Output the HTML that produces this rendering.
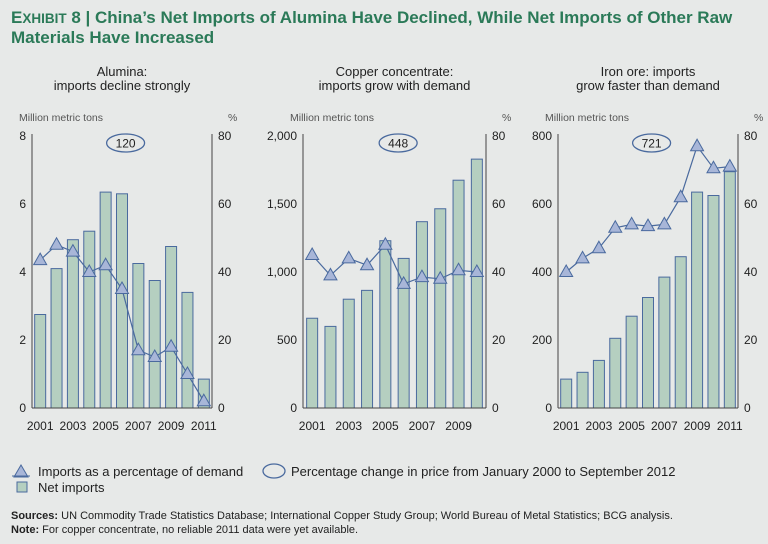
<!DOCTYPE html>
<html><head><meta charset="utf-8">
<style>
html,body{margin:0;padding:0;background:#e7e9e8;}
svg{display:block;font-family:"Liberation Sans",sans-serif;}
</style></head>
<body>
<svg id="chart" width="768" height="544" viewBox="0 0 768 544" xmlns="http://www.w3.org/2000/svg">
<rect width="768" height="544" fill="#e7e9e8"/>
<text x="11" y="23" font-size="17" font-weight="bold" fill="#2b7a58">E<tspan font-size="13.5">XHIBIT</tspan> 8 | China’s Net Imports of Alumina Have Declined, While Net Imports of Other Raw</text>
<text x="11" y="43" font-size="17" font-weight="bold" fill="#2b7a58">Materials Have Increased</text>
<g id="panels"></g>
<g>
<polygon points="21,465 28,477 14,477" fill="#a8b6d8" stroke="#4a6a9e" stroke-width="1"/>
<line x1="12" y1="476" x2="30" y2="476" stroke="#4a6a9e" stroke-width="1"/>
<text x="38" y="476" font-size="13" fill="#222">Imports as a percentage of demand</text>
<ellipse cx="274" cy="471" rx="11" ry="7" fill="none" stroke="#4a6a9e" stroke-width="1.3"/>
<text x="291" y="476" font-size="13" fill="#222">Percentage change in price from January 2000 to September 2012</text>
<rect x="17" y="482" width="10" height="10" fill="#b5cfc0" stroke="#4a6a9e" stroke-width="1"/>
<text x="38" y="492" font-size="13" fill="#222">Net imports</text>
</g>
<text x="11" y="519" font-size="11" fill="#222"><tspan font-weight="bold">Sources:</tspan> UN Commodity Trade Statistics Database; International Copper Study Group; World Bureau of Metal Statistics; BCG analysis.</text>
<text x="11" y="533" font-size="11" fill="#222"><tspan font-weight="bold">Note:</tspan> For copper concentrate, no reliable 2011 data were yet available.</text>
</svg>
<script>
const aluminaYears = [2001,2002,2003,2004,2005,2006,2007,2008,2009,2010,2011];
const aluminaImports = [2.75,4.1,4.95,5.2,6.35,6.3,4.25,3.75,4.75,3.4,0.85];
const aluminaPct = [43.5,48,46,40,42,35,17,15,18,10,2];
const aluminaTicks = [0,2,4,6,8];
const copperYears = [2001,2002,2003,2004,2005,2006,2007,2008,2009,2010];
const copperImports = [660,600,800,865,1230,1100,1370,1465,1675,1830];
const copperPct = [45,39,44,42,48,36.5,38.5,38,40.5,40];
const copperTicks = [0,500,1000,1500,2000];
const copperTickLabels = ["0","500","1,000","1,500","2,000"];
const ironYears = [2001,2002,2003,2004,2005,2006,2007,2008,2009,2010,2011];
const ironImports = [85,105,140,205,270,325,385,445,635,625,695];
const ironPct = [40,44,47,53,54,53.5,54,62,77,70.5,71];
const ironTicks = [0,200,400,600,800];
const pctTicks = [0,20,40,60,80];
const priceChanges = ["120","448","721"];

const NS = "http://www.w3.org/2000/svg";
const root = document.getElementById("panels");
function mk(tag, attrs, parent){
  const e = document.createElementNS(NS, tag);
  for (const k in attrs) e.setAttribute(k, attrs[k]);
  (parent||root).appendChild(e);
  return e;
}
const panels = [
  {key:"alumina", title:["Alumina:","imports decline strongly"], x0:32, x1:212, years:aluminaYears, vals:aluminaImports, pct:aluminaPct, ticks:aluminaTicks, labels:aluminaTicks.map(String), max:8, price:priceChanges[0]},
  {key:"copper", title:["Copper concentrate:","imports grow with demand"], x0:303, x1:486, years:copperYears, vals:copperImports, pct:copperPct, ticks:copperTicks, labels:copperTickLabels, max:2000, price:priceChanges[1]},
  {key:"iron", title:["Iron ore: imports","grow faster than demand"], x0:558, x1:738, years:ironYears, vals:ironImports, pct:ironPct, ticks:ironTicks, labels:ironTicks.map(String), max:800, price:priceChanges[2]}
];
const yTop = 136, yBot = 408;
panels.forEach(p => {
  const g = mk("g", {});
  
  
  const cx = (p.x0 + p.x1) / 2;
  p.title.forEach((t, i) => {
    const tt = mk("text", {x:cx, y:76 + i*14, "font-size":13, fill:"#222", "text-anchor":"middle"}, g);
    tt.textContent = t;
    
    
  });
  const ul = mk("text", {x:p.x0-13, y:121, "font-size":10.5, fill:"#555"}, g);
  ul.textContent = "Million metric tons";
  
  
  const ur = mk("text", {x:p.x1+16, y:121, "font-size":10.5, fill:"#555"}, g);
  ur.textContent = "%";
  
  
  const yL = v => yBot - (v / p.max) * (yBot - yTop);
  const yR = v => yBot - (v / 80) * (yBot - yTop);
  const n = p.years.length;
  const band = (p.x1 - p.x0) / n;
  const xC = i => p.x0 + band * (i + 0.5);
  p.vals.forEach((v, i) => {
    const r = mk("rect", {x:xC(i)-5.5, y:yL(v), width:11, height:yBot-yL(v), fill:"#b5cfc0", stroke:"#4a6a9e", "stroke-width":1}, g);
    
    
  });
  const la = mk("line", {x1:p.x0, y1:yTop-2, x2:p.x0, y2:yBot, stroke:"#444", "stroke-width":1}, g);
  
  
  const ra = mk("line", {x1:p.x1, y1:yTop-2, x2:p.x1, y2:yBot, stroke:"#444", "stroke-width":1}, g);
  
  
  const ba = mk("line", {x1:p.x0, y1:yBot, x2:p.x1, y2:yBot, stroke:"#444", "stroke-width":1}, g);
  
  
  p.ticks.forEach((t, i) => {
    const tl = mk("text", {x:p.x0-6, y:yL(t)+4, "font-size":12, fill:"#222", "text-anchor":"end"}, g);
    tl.textContent = p.labels[i];
    
    
  });
  pctTicks.forEach(t => {
    const tl = mk("text", {x:p.x1+6, y:yR(t)+4, "font-size":12, fill:"#222"}, g);
    tl.textContent = String(t);
    
    
  });
  p.years.forEach((yr, i) => {
    if (i % 2) return;
    const xl = mk("text", {x:xC(i), y:430, "font-size":12, fill:"#222", "text-anchor":"middle"}, g);
    xl.textContent = String(yr);
    
    
  });
  const pts = p.pct.map((v, i) => xC(i).toFixed(1) + "," + yR(v).toFixed(1)).join(" ");
  const pl = mk("polyline", {points:pts, fill:"none", stroke:"#4a6a9e", "stroke-width":1.2}, g);
  
  
  p.pct.forEach((v, i) => {
    const x = xC(i), y = yR(v);
    const tr = mk("polygon", {points:`${x},${y-7} ${x+6.5},${y+4.5} ${x-6.5},${y+4.5}`, fill:"#a8b6d8", stroke:"#4a6a9e", "stroke-width":1}, g);
    
    
  });
  const ex = p.x0 + (p.x1 - p.x0) * 0.52;
  const el = mk("ellipse", {cx:ex, cy:143, rx:19, ry:9, fill:"none", stroke:"#4a6a9e", "stroke-width":1.3}, g);
  
  
  const et = mk("text", {x:ex, y:147.5, "font-size":12, fill:"#222", "text-anchor":"middle"}, g);
  et.textContent = p.price;
  
  
});
</script>
</body></html>
